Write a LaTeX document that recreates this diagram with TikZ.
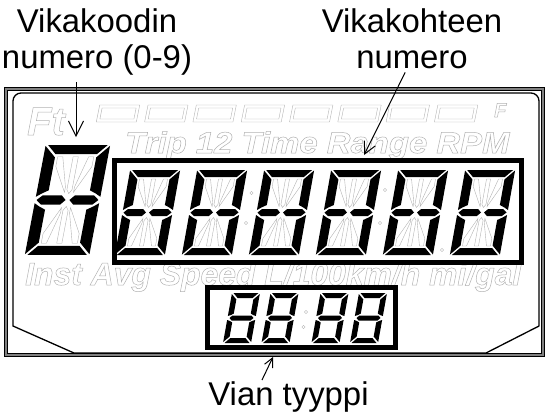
\documentclass[tikz,border=0pt]{standalone}
\usepackage{fontspec}
\setmainfont{Liberation Sans}
\usetikzlibrary{arrows.meta}
\newcommand\ghosttext[1]{\special{pdf:literal direct 1 Tr 0.5 w}#1\special{pdf:literal direct 0 Tr}}
\tikzset{
  ghost/.style={draw=black!30,line width=.4bp},
  ghostfont/.style={font=\bfseries\itshape\fontsize{#1}{#1}\selectfont,text=black!30,inner sep=0pt},
  lbl/.style={font=\fontsize{33}{36}\selectfont,inner sep=0pt,align=center},
  pointer/.style={line width=1bp,-{Straight Barb[length=#1,width=#1]}},
  pics/alnum/.style={code={
    \foreach \sy in {1,-1}{
      \fill[yscale=\sy] (-23,-42.5) -- (23,-42.5) -- (16,-35.5) -- (-16,-35.5) -- cycle;
      \draw[ghost,yscale=\sy] (-2,-33.5) -- (2,-33.5) -- (2,-8) -- (0,-5) -- (-2,-8) -- cycle;
      \foreach \sx in {1,-1}{
        \fill[xscale=\sx,yscale=\sy] (-25,-42) -- (-16,-33) -- (-16,-7.5) -- (-21,-5) -- (-25,-2.5) -- cycle;
        \draw[ghost,xscale=\sx,yscale=\sy] (-14,-33.5) -- (-10,-33.5) -- (-3.5,-10) -- (-3.5,-6) -- (-14,-26) -- cycle;
      }
    }
    \foreach \sx in {1,-1}
      \fill[xscale=\sx] (-24,0) -- (-20,-3.5) -- (-5,-3.5) -- (-1.5,0) -- (-5,3.5) -- (-20,3.5) -- cycle;
  }},
  pics/digit/.style={code={
    \foreach \sy in {1,-1}{
      \fill[yscale=\sy] (-12.5,-25) -- (12.5,-25) -- (7.5,-20) -- (-7.5,-20) -- cycle;
      \foreach \sx in {1,-1}
        \fill[xscale=\sx,yscale=\sy] (-14,-24) -- (-8.5,-18.5) -- (-8.5,-4.5) -- (-11,-3) -- (-14,-2) -- cycle;
    }
    \fill (-12,0) -- (-9.5,-2.5) -- (9.5,-2.5) -- (12,0) -- (9.5,2.5) -- (-9.5,2.5) -- cycle;
  }}
}
\begin{document}
\begin{tikzpicture}[x=1bp,y=-1bp]
\useasboundingbox (0,0) rectangle (548,418);
\draw[black!50,line width=4bp] (6,89) rectangle (543,355);
\draw[line width=1.2bp] (4.6,87.6) rectangle (544.4,356.4);
\draw[line width=.8bp] (7.6,90.6) rectangle (541.4,353.4);
\draw[line width=1.3bp] (13,326) -- (13,110) [rounded corners=8bp] -- (13,93) -- (539,93) -- (539,110) [sharp corners] -- (539,326) -- (486,353) -- (74,353) -- cycle;
\node[ghostfont=40,anchor=base west] (logo) at (27,135) {\ghosttext{Ft}};
\node[ghostfont=20,anchor=base west] (full) at (494,117) {\ghosttext{F}};
\foreach \i in {0,...,7}{
  \begin{scope}[shift={(118+48.3*\i,113.5)},xslant=.2]
    \draw[ghost] (-20,-8.5) rectangle (20,8.5);
    \draw[ghost] (-17,-5.5) rectangle (17,5.5);
  \end{scope}
}
\node[ghostfont=30,anchor=base west,xscale=1.1,transform shape] (modes) at (125,153) {\ghosttext{Trip 12 Time Range RPM}};
\node[ghostfont=32,anchor=base west] (units) at (25,285) {\ghosttext{Inst Avg Speed L/100km/h mi/gal}};
\foreach \p in {(251.5,193),(246,223),(385,190),(380,223),(442,250),(306,312),(303.5,327)}
  \draw[ghost] \p circle[radius=1.6];
\pic[xslant=.19,scale=1.29] at (67.5,200) {alnum};
\foreach \i in {0,...,5}
  \pic[xslant=.18] at (147.5+67*\i,212.5) {alnum};
\foreach \x in {241.5,280,330,368.5}
  \pic[xslant=.18] at (\x,318) {digit};
\draw[line width=5bp] (114.5,160.5) rectangle (521.5,262.5);
\draw[line width=5bp] (207.5,287.5) rectangle (395.5,347.5);
\node[lbl,anchor=north] (code) at (97,8.4) {Vikakoodin\\numero (0-9)};
\node[lbl,anchor=north] (obj) at (412,8.4) {Vikakohteen\\numero};
\node[lbl,anchor=base] (type) at (288.5,405) {Vian tyyppi};
\coordinate (codetip) at (76,137);
\coordinate (objtip) at (364,155);
\coordinate (typetip) at (273,357);
\draw[pointer=15bp,shorten <=7bp] (code.south -| codetip) -- (codetip);
\draw[pointer=12bp,shorten <=4bp] ([xshift=-5bp]obj.south) -- (objtip);
\draw[pointer=9bp,shorten <=1bp] ([xshift=-27bp]type.north) -- (typetip);
\end{tikzpicture}
\end{document}
